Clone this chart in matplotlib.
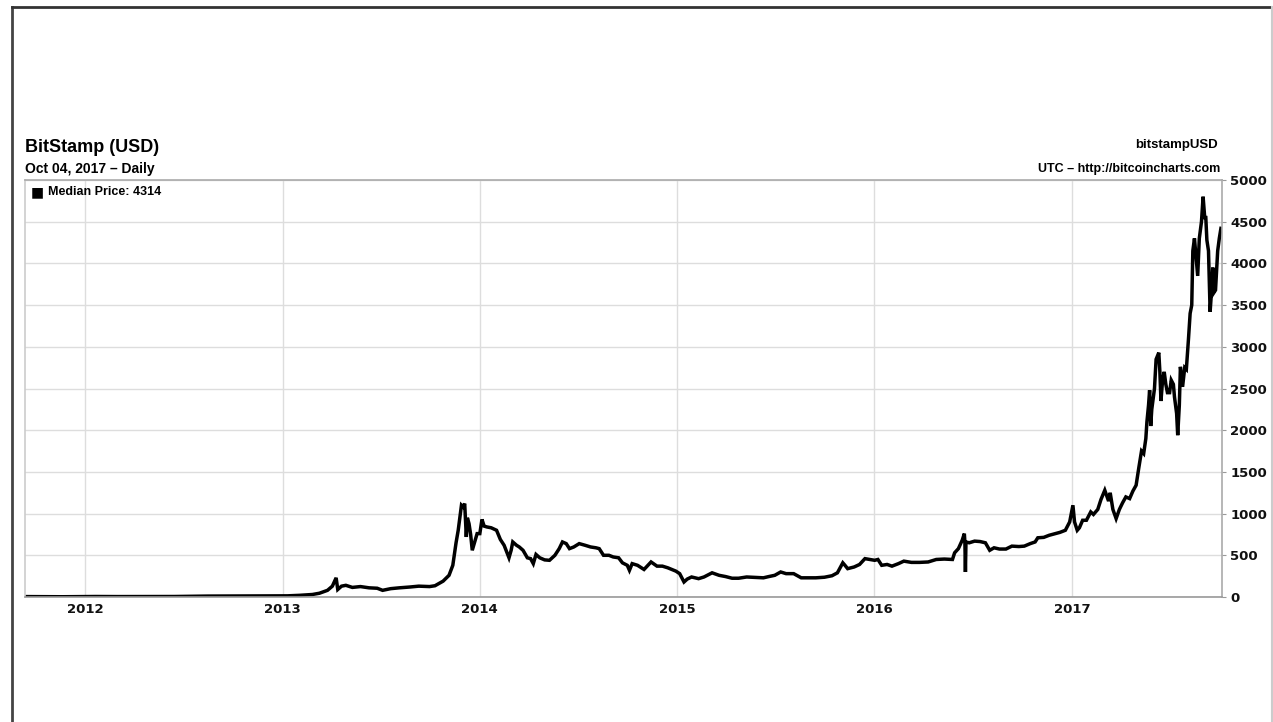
import pandas as pd
import matplotlib.pyplot as plt
from matplotlib.lines import Line2D


# BitStamp daily median price (USD)
dates = [
    '2011-09-12', '2011-10-15', '2011-11-20', '2011-12-20', '2012-01-20',
    '2012-03-01', '2012-05-01', '2012-06-15', '2012-08-15', '2012-10-01',
    '2012-12-01', '2013-01-10', '2013-02-01', '2013-02-25', '2013-03-10',
    '2013-03-25', '2013-04-03', '2013-04-10', '2013-04-13', '2013-04-20',
    '2013-04-28', '2013-05-10', '2013-05-25', '2013-06-10', '2013-06-25',
    '2013-07-05', '2013-07-20', '2013-08-05', '2013-08-25', '2013-09-10',
    '2013-09-30', '2013-10-10', '2013-10-25', '2013-11-05', '2013-11-12',
    '2013-11-18', '2013-11-22', '2013-11-28', '2013-12-01', '2013-12-04',
    '2013-12-07', '2013-12-09', '2013-12-12', '2013-12-15', '2013-12-18',
    '2013-12-22', '2013-12-27', '2014-01-01', '2014-01-05', '2014-01-09',
    '2014-01-14', '2014-01-22', '2014-02-01', '2014-02-08', '2014-02-15',
    '2014-02-24', '2014-02-28', '2014-03-03', '2014-03-10', '2014-03-15',
    '2014-03-22', '2014-03-30', '2014-04-05', '2014-04-10', '2014-04-15',
    '2014-04-22', '2014-05-01', '2014-05-10', '2014-05-20', '2014-05-28',
    '2014-06-03', '2014-06-10', '2014-06-16', '2014-06-24', '2014-07-04',
    '2014-07-15', '2014-07-25', '2014-08-04', '2014-08-10', '2014-08-18',
    '2014-08-28', '2014-09-05', '2014-09-15', '2014-09-22', '2014-10-01',
    '2014-10-05', '2014-10-10', '2014-10-20', '2014-11-01', '2014-11-14',
    '2014-11-25', '2014-12-05', '2014-12-15', '2014-12-30', '2015-01-06',
    '2015-01-14', '2015-01-20', '2015-01-28', '2015-02-10', '2015-02-20',
    '2015-03-07', '2015-03-20', '2015-04-01', '2015-04-13', '2015-04-25',
    '2015-05-10', '2015-05-25', '2015-06-10', '2015-06-20', '2015-07-01',
    '2015-07-12', '2015-07-22', '2015-08-05', '2015-08-19', '2015-09-01',
    '2015-09-15', '2015-10-01', '2015-10-15', '2015-10-25', '2015-11-04',
    '2015-11-08', '2015-11-13', '2015-11-25', '2015-12-05', '2015-12-15',
    '2015-12-24', '2016-01-02', '2016-01-08', '2016-01-15', '2016-01-25',
    '2016-02-03', '2016-02-15', '2016-02-25', '2016-03-10', '2016-03-25',
    '2016-04-10', '2016-04-25', '2016-05-10', '2016-05-25', '2016-05-29',
    '2016-06-05', '2016-06-12', '2016-06-16', '2016-06-17', '2016-06-18',
    '2016-06-19', '2016-06-25', '2016-07-05', '2016-07-15', '2016-07-25',
    '2016-08-02', '2016-08-10', '2016-08-20', '2016-09-01', '2016-09-12',
    '2016-09-25', '2016-10-05', '2016-10-16', '2016-10-25', '2016-10-30',
    '2016-11-10', '2016-11-20', '2016-12-01', '2016-12-10', '2016-12-20',
    '2016-12-28', '2017-01-03', '2017-01-06', '2017-01-11', '2017-01-15',
    '2017-01-21', '2017-01-28', '2017-02-05', '2017-02-10', '2017-02-18',
    '2017-02-24', '2017-03-03', '2017-03-10', '2017-03-13', '2017-03-18',
    '2017-03-24', '2017-03-30', '2017-04-05', '2017-04-11', '2017-04-18',
    '2017-04-24', '2017-04-30', '2017-05-05', '2017-05-10', '2017-05-14',
    '2017-05-18', '2017-05-20', '2017-05-23', '2017-05-25', '2017-05-27',
    '2017-05-29', '2017-06-03', '2017-06-06', '2017-06-11', '2017-06-13',
    '2017-06-15', '2017-06-18', '2017-06-21', '2017-06-24', '2017-06-27',
    '2017-07-01', '2017-07-04', '2017-07-08', '2017-07-10', '2017-07-14',
    '2017-07-16', '2017-07-19', '2017-07-21', '2017-07-25', '2017-07-29',
    '2017-08-01', '2017-08-05', '2017-08-08', '2017-08-11', '2017-08-13',
    '2017-08-16', '2017-08-19', '2017-08-22', '2017-08-25', '2017-08-29',
    '2017-09-01', '2017-09-04', '2017-09-06', '2017-09-08', '2017-09-11',
    '2017-09-14', '2017-09-17', '2017-09-19', '2017-09-21', '2017-09-24',
    '2017-09-28', '2017-10-01', '2017-10-04',
]
prices = [
    5, 4, 3, 4, 6,
    5, 5, 6, 11, 12,
    13, 14, 20, 30, 45,
    80, 130, 230, 90, 130,
    140, 115, 125, 110, 105,
    80, 100, 110, 120, 130,
    125, 135, 190, 260, 380,
    650, 800, 1100, 1080, 1120,
    720, 950, 880, 750, 560,
    650, 760, 760, 930, 850,
    840, 830, 800, 690, 620,
    470, 560, 660, 620, 600,
    560, 470, 460, 400, 510,
    470, 445, 440, 500, 580,
    660, 640, 580, 600, 640,
    620, 600, 590, 580, 500,
    500, 480, 470, 410, 380,
    320, 400, 380, 330, 420,
    370, 370, 350, 310, 280,
    180, 215, 240, 220, 240,
    290, 260, 245, 225, 225,
    240, 235, 230, 245, 260,
    300, 280, 280, 230, 230,
    230, 237, 255, 290, 410,
    380, 340, 360, 390, 460,
    450, 440, 450, 380, 390,
    370, 400, 430, 415, 415,
    420, 450, 455, 450, 530,
    580, 680, 760, 660, 300,
    660, 650, 670, 665, 650,
    560, 590, 575, 575, 610,
    605, 610, 640, 660, 710,
    715, 740, 760, 775, 800,
    900, 1100, 900, 800, 830,
    920, 920, 1020, 990, 1050,
    1170, 1280, 1150, 1250, 1050,
    940, 1050, 1130, 1200, 1180,
    1270, 1340, 1550, 1750, 1720,
    1900, 2100, 2300, 2480, 2050,
    2250, 2500, 2850, 2930, 2700,
    2350, 2600, 2700, 2550, 2450,
    2450, 2600, 2550, 2400, 2200,
    1940, 2300, 2760, 2520, 2750,
    2730, 3100, 3400, 3500, 4150,
    4300, 4080, 3850, 4300, 4500,
    4800, 4550, 4550, 4280, 4150,
    3420, 3700, 3950, 3650, 3680,
    4150, 4300, 4420,
]
median_price = 4314
years = [2012, 2013, 2014, 2015, 2016, 2017]
y_ticks = list(range(0, 5001, 500))

W, H = 1273, 722
fig = plt.figure(figsize=(W / 100, H / 100), dpi=100)
ax = fig.add_axes([25 / W, 125 / H, 1197 / W, 417 / H])

x = pd.to_datetime(dates)
ax.plot(x, prices, color='black', lw=2.5, solid_joinstyle='miter')

ax.set_xlim(pd.Timestamp('2011-09-12'), pd.Timestamp('2017-10-06'))
ax.set_ylim(0, 5000)

ax.set_xticks([pd.Timestamp(f'{yr}-01-01') for yr in years])
ax.set_xticklabels([str(yr) for yr in years])
ax.set_yticks(y_ticks)
ax.yaxis.tick_right()
ax.tick_params(axis='x', length=0, pad=4, labelsize=9.5)
ax.tick_params(axis='y', length=3, color='#999999', pad=3, labelsize=9.5)
for lab in ax.get_xticklabels() + ax.get_yticklabels():
    lab.set_fontweight('bold')
    lab.set_family('DejaVu Sans')
    lab.set_color('#111111')

ax.grid(True, color='#dddddd', lw=1)
ax.set_axisbelow(True)
for side, col in [('top', '#aaaaaa'), ('bottom', '#999999'),
                  ('left', '#cccccc'), ('right', '#aaaaaa')]:
    ax.spines[side].set_color(col)
    ax.spines[side].set_linewidth(1.2)

font = ['Liberation Sans', 'DejaVu Sans']


def px(xp, yp):
    return xp / W, 1 - yp / H


fig.text(*px(25, 152), 'BitStamp (USD)', fontsize=13, fontweight='bold',
         family=font, va='baseline', ha='left')
fig.text(*px(25, 173), 'Oct 04, 2017 \u2013 Daily', fontsize=10,
         fontweight='bold', family=font, va='baseline', ha='left')
fig.text(*px(1218, 148), 'bitstampUSD', fontsize=9.5, fontweight='bold',
         family=font, va='baseline', ha='right')
fig.text(*px(1220, 172), 'UTC \u2013 http://bitcoincharts.com', fontsize=9,
         fontweight='bold', family=font, va='baseline', ha='right')

# legend line inside the plot
fig.text(*px(31, 196), '\u25a0', fontsize=10, family='DejaVu Sans',
         va='baseline', ha='left')
fig.text(*px(48, 195), f'Median Price: {median_price}', fontsize=9,
         fontweight='bold', family=font, va='baseline', ha='left')

# outer frame of the picture
fig.add_artist(Line2D([12 / W, 12 / W], [0, 1 - 7 / H], color='#444444',
                      lw=2, transform=fig.transFigure))
fig.add_artist(Line2D([12 / W, 1], [1 - 7 / H, 1 - 7 / H], color='#333333',
                      lw=2, transform=fig.transFigure))
fig.add_artist(Line2D([1271.5 / W, 1271.5 / W], [0, 1 - 7 / H],
                      color='#cccccc', lw=1.5, transform=fig.transFigure))

fig.savefig('out.png', dpi=100)
plt.close()
